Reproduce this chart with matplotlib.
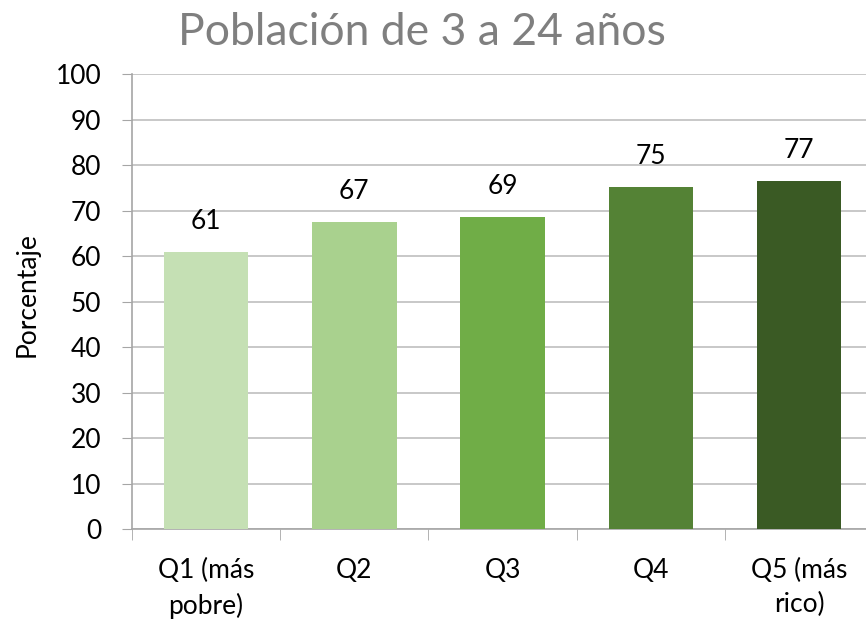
import numpy as np
import matplotlib.pyplot as plt

categories = ["Q1 (más\npobre)", "Q2", "Q3", "Q4", "Q5 (más\nrico)"]
values = [60.9, 67.4, 68.6, 75.1, 76.5]
value_labels = ["61", "67", "69", "75", "77"]
colors = ["#C5E0B4", "#A9D18E", "#70AD47", "#548235", "#3A5A24"]

plt.rcParams['font.family'] = ['Lato', 'DejaVu Sans']

fig = plt.figure(figsize=(8.66, 6.22), dpi=100)
ax = fig.add_axes([0.1524, 0.1495, 0.856, 0.7315])

x = np.arange(len(categories))
bars = ax.bar(x, values, width=0.57, color=colors, zorder=3)

for b, lab in zip(bars, value_labels):
    ax.annotate(lab, (b.get_x() + b.get_width() / 2, b.get_height()),
                xytext=(0, 13), textcoords="offset points",
                ha="center", va="bottom", fontsize=19, color="black")

ax.set_xlim(-0.5, len(categories) - 0.5)
ax.set_ylim(0, 100)
ax.set_yticks(range(0, 101, 10))
ax.tick_params(axis="y", labelsize=19, length=7, color="#A6A6A6", pad=15)
ax.yaxis.grid(True, color="#BFBFBF", linewidth=1.2, zorder=0)

ax.set_xticks(x)
ax.set_xticklabels(categories, fontsize=19, linespacing=1.45)
ax.tick_params(axis="x", which="major", length=0, pad=21)
ax.set_xticks(np.arange(-0.5, len(categories), 1.0), minor=True)
ax.tick_params(axis="x", which="minor", length=8, color="#A6A6A6")

for side in ["top", "right"]:
    ax.spines[side].set_visible(False)
for side in ["left", "bottom"]:
    ax.spines[side].set_color("#A6A6A6")
    ax.spines[side].set_linewidth(1.2)

fig.text(27 / 866, 0.526, "Porcentaje", rotation=90, ha="center", va="center",
         fontsize=19)
fig.text(0.487, 0.948, "Población de 3 a 24 años", ha="center", va="center",
         fontsize=32, color="#7F7F7F")

fig.savefig("out.png", dpi=100)
